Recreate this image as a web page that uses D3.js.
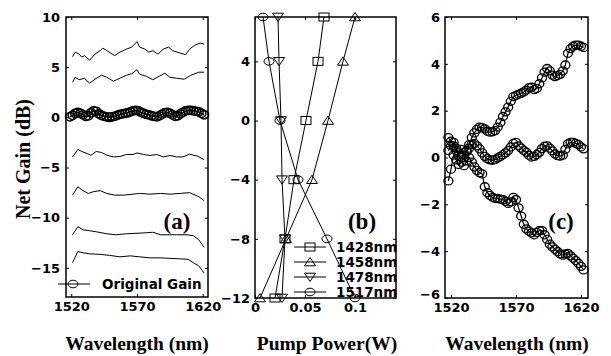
<!DOCTYPE html>
<html>
<head>
<meta charset="utf-8">
<script src="https://cdn.jsdelivr.net/npm/d3@7"></script>
<style>
    body { margin: 0; background: #fff; }
    .tick text { font-family: "DejaVu Sans", sans-serif; font-weight: bold; font-size: 13px; fill: #000; }
    .tick line { stroke: #000; }
    .lbl { font-family: "Liberation Serif", "Times New Roman", serif; font-weight: bold; fill: #000; }
    .leg { font-family: "DejaVu Sans", sans-serif; font-weight: bold; font-size: 13.5px; fill: #000; }
</style>
</head>
<body>
<svg id="chart" width="611" height="356"></svg>
<script>
// ---- panel (a): net gain curves vs wavelength ----
const gainCurve7 = [[1521, 6.05], [1523, 6.5], [1526, 6.3], [1528, 6.0], [1530, 6.15], [1534, 5.7], [1538, 6.3], [1542, 6.65], [1544, 6.9], [1547, 6.65],
    [1553, 6.15], [1557, 6.5], [1562, 6.8], [1566, 7.0], [1570, 7.55], [1572, 7.0], [1576, 6.8], [1579, 6.5], [1582, 6.65], [1586, 6.3],
    [1590, 6.8], [1594, 7.0], [1597, 6.65], [1603, 6.4], [1607, 6.25], [1610, 6.8], [1614, 7.2], [1618, 7.4], [1621, 7.3]];
const gainCurve4 = [[1521, 3.5], [1523, 4.0], [1526, 3.75], [1530, 3.9], [1534, 3.4], [1538, 3.8], [1543, 4.2], [1547, 4.0], [1552, 3.6], [1557, 3.9],
    [1562, 4.2], [1566, 4.35], [1570, 4.75], [1572, 4.3], [1577, 4.1], [1582, 3.75], [1587, 4.1], [1591, 4.4], [1595, 4.0], [1600, 3.9],
    [1606, 3.8], [1611, 4.2], [1617, 4.5], [1621, 4.5]];
const gainCurveM4 = [[1521, -3.94], [1525, -3.2], [1528, -3.4], [1532, -3.6], [1535, -3.78], [1539, -3.4], [1543, -3.5], [1547, -3.77], [1552, -3.94],
    [1557, -3.9], [1562, -3.7], [1567, -3.7], [1570, -3.55], [1575, -3.7], [1580, -3.8], [1585, -3.7], [1590, -3.94], [1595, -3.8],
    [1600, -3.94], [1605, -3.94], [1610, -3.67], [1616, -3.87], [1621, -4.2]];
const gainCurveM8 = [[1521, -7.75], [1525, -6.92], [1529, -7.3], [1533, -7.58], [1537, -7.4], [1542, -7.3], [1547, -7.58], [1553, -7.75], [1560, -7.75],
    [1567, -7.65], [1572, -7.58], [1580, -7.65], [1588, -7.58], [1595, -7.65], [1603, -7.58], [1610, -7.5], [1617, -7.9], [1621, -8.3]];
const gainCurveM12 = [[1521, -11.7], [1525, -10.9], [1529, -11.2], [1534, -11.3], [1539, -11.4], [1547, -11.6], [1554, -11.7], [1562, -11.6], [1570, -11.55],
    [1577, -11.5], [1582, -11.45], [1588, -11.7], [1593, -11.7], [1600, -11.7], [1608, -11.7], [1613, -11.8], [1617, -12.2], [1621, -12.95]];
const gainCurveM14 = [[1521, -14.47], [1525, -13.37], [1529, -13.5], [1534, -13.6], [1542, -13.65], [1549, -13.75], [1557, -13.9], [1565, -13.8],
    [1572, -13.9], [1580, -14.0], [1588, -14.0], [1595, -14.05], [1603, -14.1], [1609, -14.15], [1613, -14.5], [1617, -14.8], [1621, -15.5]];

const origWave = [1519, 1521, 1523, 1525, 1527, 1529, 1531, 1533, 1535, 1537, 1539, 1541, 1543, 1545, 1547, 1549, 1551, 1553, 1555, 1557,
    1559, 1561, 1563, 1565, 1567, 1569, 1571, 1573, 1575, 1577, 1579, 1581, 1583, 1585, 1587, 1589, 1591, 1593, 1595, 1597,
    1599, 1601, 1603, 1605, 1607, 1609, 1611, 1613, 1615, 1617, 1619, 1621];
const origGain = [0.05, 0.2, 0.4, 0.5, 0.4, 0.25, 0.1, 0.15, 0.45, 0.65, 0.6, 0.35, 0.2, 0.1, 0.05, 0.0, 0.05, 0.1, 0.2, 0.3,
    0.35, 0.4, 0.45, 0.55, 0.65, 0.7, 0.65, 0.5, 0.4, 0.3, 0.25, 0.15, 0.1, 0.05, 0.15, 0.3, 0.45, 0.5, 0.4, 0.25,
    0.1, 0.15, 0.35, 0.5, 0.65, 0.7, 0.7, 0.65, 0.6, 0.55, 0.4, 0.25];

// ---- panel (b): pump power vs target gain ----
const targetGain = [7, 4, 0, -4, -8, -12];
const pump1428 = [0.069, 0.063, 0.051, 0.039, 0.030, 0.020];
const pump1458 = [0.100, 0.088, 0.073, 0.057, 0.031, 0.005];
const pump1478 = [0.023, 0.024, 0.026, 0.027, 0.030, 0.027];
const pump1517 = [0.008, 0.014, 0.025, 0.043, 0.072, 0.100];
const pumpNames = ['1428nm', '1458nm', '1478nm', '1517nm'];

// ---- panel (c): gain tilt curves ----
const tiltWave = [1518, 1520, 1522, 1524, 1526, 1528, 1530, 1532, 1534, 1536, 1538, 1540, 1542, 1544, 1546, 1548, 1550, 1552, 1554, 1556,
    1558, 1560, 1562, 1564, 1566, 1568, 1570, 1572, 1574, 1576, 1578, 1580, 1582, 1584, 1586, 1588, 1590, 1592, 1594, 1596,
    1598, 1600, 1602, 1604, 1606, 1608, 1610, 1612, 1614, 1616, 1618, 1620, 1622];
const tiltUp = [0.85, 0.7, 0.5, 0.3, 0.1, 0.0, 0.1, 0.3, 0.55, 0.85, 1.05, 1.2, 1.3, 1.28, 1.22, 1.12, 1.08, 1.1, 1.15, 1.3,
    1.5, 1.75, 1.95, 2.15, 2.4, 2.6, 2.65, 2.7, 2.75, 2.8, 2.88, 2.98, 3.0, 2.9, 2.95, 3.15, 3.4, 3.65, 3.8, 3.7,
    3.52, 3.45, 3.5, 3.55, 3.7, 3.95, 4.45, 4.65, 4.75, 4.8, 4.8, 4.75, 4.7];
const tiltFlat = [0.3, 0.5, 0.65, 0.4, 0.2, 0.35, 0.1, 0.25, 0.4, 0.55, 0.6, 0.5, 0.37, 0.2, 0.05, -0.05, -0.1, -0.12, -0.08, -0.02,
    0.05, 0.12, 0.2, 0.3, 0.45, 0.6, 0.65, 0.5, 0.4, 0.3, 0.22, 0.1, 0.02, 0.05, 0.12, 0.22, 0.38, 0.48, 0.5, 0.4,
    0.28, 0.15, 0.08, 0.06, 0.1, 0.35, 0.58, 0.65, 0.65, 0.6, 0.55, 0.45, 0.37];
const tiltDown = [-1.0, -0.5, 0.1, -0.1, -0.3, -0.2, -0.35, -0.15, 0.0, -0.2, -0.4, -0.55, -0.65, -0.7, -1.25, -1.5, -1.62, -1.7, -1.75, -1.75,
    -1.78, -1.8, -1.88, -1.96, -1.9, -1.7, -1.8, -2.15, -2.5, -2.85, -3.05, -3.15, -3.22, -3.3, -3.2, -3.12, -3.12, -3.3, -3.5, -3.7,
    -3.82, -3.92, -4.02, -4.12, -4.17, -4.12, -4.1, -4.2, -4.3, -4.4, -4.52, -4.65, -4.8];

const svg = d3.select('#chart');

// Axes box with inward ticks on all four sides (matlab style)
function makePanel(box, xDomain, yDomain, xTicks, yTicks, xFmt, yFmt) {
    const x = d3.scaleLinear().domain(xDomain).range([box.left, box.right]);
    const y = d3.scaleLinear().domain(yDomain).range([box.bottom, box.top]);

    const g = svg.append('g');
    g.append('g')
        .attr('transform', `translate(0,${box.bottom})`)
        .call(d3.axisBottom(x).tickValues(xTicks).tickSize(-3).tickSizeOuter(0).tickPadding(5).tickFormat(xFmt));
    g.append('g')
        .attr('transform', `translate(0,${box.top})`)
        .call(d3.axisTop(x).tickValues(xTicks).tickSize(-3).tickSizeOuter(0).tickFormat(''));
    g.append('g')
        .attr('transform', `translate(${box.left},0)`)
        .call(d3.axisLeft(y).tickValues(yTicks).tickSize(-3).tickSizeOuter(0).tickPadding(box.pad).tickFormat(yFmt));
    g.append('g')
        .attr('transform', `translate(${box.right},0)`)
        .call(d3.axisRight(y).tickValues(yTicks).tickSize(-3).tickSizeOuter(0).tickFormat(''));
    g.selectAll('.domain').remove();

    g.append('rect')
        .attr('x', box.left).attr('y', box.top)
        .attr('width', box.right - box.left).attr('height', box.bottom - box.top)
        .attr('fill', 'none').attr('stroke', '#000').attr('stroke-width', 1.5);
    return { x, y, g };
}

function marker(sel, shape) {
    if (shape === 'square') {
        sel.append('rect').attr('x', -5).attr('y', -4).attr('width', 10).attr('height', 8);
    } else if (shape === 'up') {
        sel.append('path').attr('d', 'M-5.5,3.8L5.5,3.8L0,-4.5Z');
    } else if (shape === 'down') {
        sel.append('path').attr('d', 'M-5.5,-3.8L5.5,-3.8L0,4.5Z');
    } else {
        sel.append('ellipse').attr('rx', 5).attr('ry', 3.8);
    }
    sel.selectAll('*').attr('fill', 'none').attr('stroke', '#000').attr('stroke-width', 1);
}

// ---------- (a) ----------
const pa = makePanel({ left: 66, right: 208, top: 17, bottom: 297, pad: 6 },
    [1516, 1624], [-17.9, 10], [1520, 1570, 1620], [-15, -10, -5, 0, 5, 10], d3.format('d'), d3.format('d'));

const lineA = d3.line().x(d => pa.x(d[0])).y(d => pa.y(d[1]));
[gainCurve7, gainCurve4, gainCurveM4, gainCurveM8, gainCurveM12, gainCurveM14].forEach(c => {
    pa.g.append('path').attr('d', lineA(c)).attr('fill', 'none').attr('stroke', '#000').attr('stroke-width', 1);
});

const origPts = origWave.map((w, i) => [w, origGain[i]]);
pa.g.append('path').attr('d', lineA(origPts)).attr('fill', 'none').attr('stroke', '#000').attr('stroke-width', 1.5);
pa.g.selectAll('.orig').data(origPts).enter().append('ellipse')
    .attr('cx', d => pa.x(d[0])).attr('cy', d => pa.y(d[1]))
    .attr('rx', 4.5).attr('ry', 4.2)
    .attr('fill', 'none').attr('stroke', '#000').attr('stroke-width', 1.5);

// legend (a)
pa.g.append('line').attr('x1', 58).attr('x2', 90).attr('y1', 284).attr('y2', 284).attr('stroke', '#000');
marker(pa.g.append('g').attr('transform', 'translate(73,284)'), 'circle');
pa.g.append('text').attr('class', 'leg').attr('x', 102).attr('y', 289).text('Original Gain');
pa.g.append('text').attr('class', 'lbl').attr('x', 177).attr('y', 229)
    .attr('text-anchor', 'middle').style('font-size', '23px').text('(a)');

// ---------- (b) ----------
const pb = makePanel({ left: 255, right: 396, top: 17, bottom: 298, pad: 5 },
    [0, 0.141], [-12, 7], [0, 0.05, 0.1], [-12, -8, -4, 0, 4], d => d === 0 ? '0' : d3.format('.2~f')(d), d3.format('d'));

const shapes = ['square', 'up', 'down', 'circle'];
[pump1428, pump1458, pump1478, pump1517].forEach((p, k) => {
    const pts = p.map((v, i) => [v, targetGain[i]]);
    pb.g.append('path')
        .attr('d', d3.line().x(d => pb.x(d[0])).y(d => pb.y(d[1]))(pts))
        .attr('fill', 'none').attr('stroke', '#000').attr('stroke-width', 1);
    pts.forEach(d => marker(pb.g.append('g').attr('transform', `translate(${pb.x(d[0])},${pb.y(d[1])})`), shapes[k]));
});

// legend (b)
pumpNames.forEach((name, k) => {
    const ly = 247 + k * 15;
    pb.g.append('line').attr('x1', 294).attr('x2', 326).attr('y1', ly).attr('y2', ly).attr('stroke', '#000');
    marker(pb.g.append('g').attr('transform', `translate(310,${ly})`), shapes[k]);
    pb.g.append('text').attr('class', 'leg').attr('x', 336).attr('y', ly + 5).text(name);
});
pb.g.append('text').attr('class', 'lbl').attr('x', 362).attr('y', 229)
    .attr('text-anchor', 'middle').style('font-size', '23px').text('(b)');

// ---------- (c) ----------
const pc = makePanel({ left: 445, right: 588, top: 17, bottom: 298, pad: 5 },
    [1515.4, 1625.4], [-6, 6], [1520, 1570, 1620], [-6, -4, -2, 0, 2, 4, 6], d3.format('d'), d3.format('d'));
// the -6 label sits a little higher, as in the reference
pc.g.selectAll('.tick text').filter(d => d === -6).attr('dy', '0.05em');

const lineC = d3.line().x(d => pc.x(d[0])).y(d => pc.y(d[1]));
[tiltUp, tiltFlat, tiltDown].forEach(vals => {
    const pts = tiltWave.map((w, i) => [w, vals[i]]);
    pc.g.append('path').attr('d', lineC(pts)).attr('fill', 'none').attr('stroke', '#000').attr('stroke-width', 1.2);
    pc.g.append('g').selectAll('ellipse').data(pts).enter().append('ellipse')
        .attr('cx', d => pc.x(d[0])).attr('cy', d => pc.y(d[1]))
        .attr('rx', 4.5).attr('ry', 4)
        .attr('fill', 'none').attr('stroke', '#000').attr('stroke-width', 1.3);
});
pc.g.append('text').attr('class', 'lbl').attr('x', 561).attr('y', 229)
    .attr('text-anchor', 'middle').style('font-size', '23px').text('(c)');

// ---------- axis titles ----------
svg.append('text').attr('class', 'lbl').attr('x', 137).attr('y', 350)
    .attr('text-anchor', 'middle').style('font-size', '19.5px').text('Wavelength (nm)');
svg.append('text').attr('class', 'lbl').attr('x', 327).attr('y', 350)
    .attr('text-anchor', 'middle').style('font-size', '19.5px').text('Pump Power(W)');
svg.append('text').attr('class', 'lbl').attr('x', 517).attr('y', 350)
    .attr('text-anchor', 'middle').style('font-size', '19.5px').text('Wavelength (nm)');
svg.append('text').attr('class', 'lbl')
    .attr('transform', 'translate(30,159) rotate(-90)')
    .attr('text-anchor', 'middle').style('font-size', '20px').text('Net Gain (dB)');
</script>
</body>
</html>
